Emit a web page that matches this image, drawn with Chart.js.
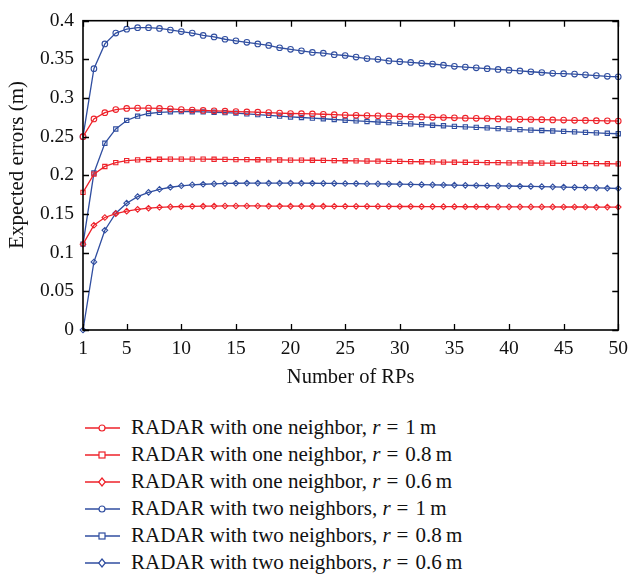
<!DOCTYPE html>
<html>
<head>
<meta charset="utf-8">
<script src="https://cdn.jsdelivr.net/npm/chart.js@4/dist/chart.umd.min.js"></script>
<style>
  html, body { margin: 0; padding: 0; background: #fff; }
  #wrap { position: relative; width: 635px; height: 578px; overflow: hidden; }
  #c { position: absolute; left: 0; top: 0; }
  #legend { position: absolute; left: 85px; top: 414px; font-family: "Liberation Serif", "Times New Roman", serif; font-size: 21px; color: #111; }
  .row { height: 27px; display: flex; align-items: center; white-space: nowrap; }
  .row svg { margin-right: 11px; flex: none; }
  .eq { display: inline-block; margin: 0 7px 0 6px; }
</style>
</head>
<body>
<div id="wrap">
  <canvas id="c" width="635" height="400"></canvas>
  <div id="legend"></div>
</div>
<script>
// ---- data ----
const RPS = [1,2,3,4,5,6,7,8,9,10,11,12,13,14,15,16,17,18,19,20,21,22,23,24,25,26,27,28,29,30,31,32,33,34,35,36,37,38,39,40,41,42,43,44,45,46,47,48,49,50];
const X_TICKS = [1,5,10,15,20,25,30,35,40,45,50];
const Y_TICKS = [0,0.05,0.1,0.15,0.2,0.25,0.3,0.35,0.4];
const Y_TICK_LABELS = ["0","0.05","0.1","0.15","0.2","0.25","0.3","0.35","0.4"];

const oneR1 = [0.250,0.273,0.281,0.285,0.2865,0.287,0.287,0.2865,0.286,0.285,0.2845,0.284,0.2835,0.283,0.2825,0.282,0.2817,0.2812,0.2805,0.280,0.2797,0.2795,0.279,0.2785,0.278,0.2777,0.2773,0.277,0.2765,0.2762,0.2758,0.2755,0.275,0.2748,0.2744,0.274,0.2737,0.2735,0.273,0.2727,0.2725,0.2722,0.272,0.2717,0.2715,0.2712,0.271,0.2707,0.2705,0.2703];
const oneR08 = [0.178,0.2015,0.2115,0.2165,0.219,0.220,0.2205,0.2208,0.221,0.221,0.221,0.221,0.2208,0.2206,0.2204,0.2203,0.2202,0.220,0.2199,0.2197,0.2196,0.2195,0.2193,0.219,0.2189,0.2187,0.2185,0.2183,0.2181,0.218,0.2178,0.2176,0.2174,0.2172,0.217,0.2169,0.2167,0.2165,0.2164,0.2162,0.2161,0.216,0.2158,0.2157,0.2155,0.2154,0.2152,0.2151,0.215,0.2148];
const oneR06 = [0.111,0.1355,0.1455,0.1505,0.1537,0.156,0.1575,0.1587,0.1593,0.1597,0.160,0.1602,0.1603,0.1604,0.1604,0.1604,0.1604,0.1603,0.1603,0.1602,0.1602,0.1601,0.1601,0.160,0.160,0.1599,0.1599,0.1598,0.1598,0.1597,0.1597,0.1596,0.1596,0.1595,0.1595,0.1594,0.1594,0.1594,0.1593,0.1593,0.1593,0.1592,0.1592,0.1592,0.1591,0.1591,0.1591,0.159,0.159,0.159];
const twoR1 = [0.250,0.338,0.370,0.384,0.389,0.391,0.391,0.390,0.388,0.386,0.384,0.381,0.379,0.376,0.374,0.372,0.370,0.368,0.365,0.363,0.361,0.359,0.358,0.356,0.355,0.353,0.351,0.350,0.348,0.347,0.346,0.345,0.344,0.3425,0.341,0.340,0.339,0.338,0.337,0.336,0.335,0.334,0.333,0.332,0.3315,0.331,0.330,0.329,0.328,0.3275];
const twoR08 = [0.111,0.203,0.2415,0.260,0.271,0.2765,0.280,0.2815,0.2822,0.2824,0.2823,0.282,0.2816,0.2811,0.2805,0.2795,0.2785,0.2775,0.2765,0.2755,0.2748,0.274,0.2732,0.2722,0.2713,0.2705,0.2697,0.269,0.2681,0.2673,0.2665,0.2655,0.2648,0.2641,0.2634,0.2627,0.262,0.2613,0.2605,0.2598,0.2592,0.2585,0.258,0.2574,0.2568,0.2562,0.2556,0.255,0.2544,0.2538];
const twoR06 = [0,0.088,0.129,0.151,0.164,0.1725,0.178,0.182,0.1846,0.1865,0.1878,0.1885,0.189,0.1895,0.1898,0.190,0.190,0.190,0.190,0.190,0.1899,0.1898,0.1897,0.1896,0.1894,0.1893,0.1891,0.189,0.1888,0.1886,0.1882,0.188,0.1877,0.1875,0.1873,0.1871,0.1869,0.1866,0.1864,0.1862,0.1859,0.1857,0.1854,0.1851,0.1848,0.1845,0.1842,0.1838,0.1834,0.183];

const SERIES_LABELS = [
  ["RADAR with one neighbor, ", "1"],
  ["RADAR with one neighbor, ", "0.8"],
  ["RADAR with one neighbor, ", "0.6"],
  ["RADAR with two neighbors, ", "1"],
  ["RADAR with two neighbors, ", "0.8"],
  ["RADAR with two neighbors, ", "0.6"]
];

// ---- styling ----
const RED = "rgb(238,34,42)";
const BLUE = "rgb(48,78,160)";
const FONT = "'Liberation Serif', 'Times New Roman', serif";
const seriesValues = [oneR1, oneR08, oneR06, twoR1, twoR08, twoR06];
const colors = [RED, RED, RED, BLUE, BLUE, BLUE];
const shapes = ["circle", "rect", "rectRot", "circle", "rect", "rectRot"];

const datasets = seriesValues.map((vals, i) => ({
  label: SERIES_LABELS[i][0] + "r = " + SERIES_LABELS[i][1] + " m",
  data: RPS.map((x, k) => ({ x: x, y: vals[k] })),
  borderColor: colors[i],
  backgroundColor: "rgba(255,255,255,0)",
  pointBorderColor: colors[i],
  pointBackgroundColor: "rgba(255,255,255,0)",
  pointStyle: shapes[i],
  pointRadius: shapes[i] === "rect" ? 3 : 2.8,
  pointBorderWidth: 1.1,
  borderWidth: 1.3,
  tension: 0,
  clip: false
}));

const framePlugin = {
  id: "frame",
  afterDatasetsDraw(chart) {
    const { ctx, chartArea: a, scales } = chart;
    ctx.save();
    ctx.strokeStyle = "#000";
    ctx.lineWidth = 1.3;
    const L = 6;
    ctx.beginPath();
    X_TICKS.forEach(v => {
      const px = Math.round(scales.x.getPixelForValue(v)) + 0.5;
      ctx.moveTo(px, a.bottom); ctx.lineTo(px, a.bottom - L);
      ctx.moveTo(px, a.top); ctx.lineTo(px, a.top + L);
    });
    Y_TICKS.forEach(v => {
      const py = Math.round(scales.y.getPixelForValue(v)) + 0.5;
      ctx.moveTo(a.left, py); ctx.lineTo(a.left + L, py);
      ctx.moveTo(a.right, py); ctx.lineTo(a.right - L, py);
    });
    ctx.stroke();
    ctx.lineWidth = 1.6;
    ctx.strokeRect(a.left, a.top, a.right - a.left, a.bottom - a.top);
    ctx.restore();
  }
};

new Chart(document.getElementById("c"), {
  type: "line",
  data: { datasets },
  options: {
    responsive: false,
    animation: false,
    devicePixelRatio: 1,
    layout: { padding: { top: 10, right: 8, left: 0, bottom: 10 } },
    plugins: { legend: { display: false }, tooltip: { enabled: false } },
    scales: {
      x: {
        type: "linear", min: 1, max: 50,
        afterBuildTicks: s => { s.ticks = X_TICKS.map(v => ({ value: v })); },
        grid: { display: false, drawTicks: false },
        border: { display: false },
        ticks: { font: { family: FONT, size: 19.5 }, color: "#111", padding: 7, maxRotation: 0, autoSkip: false },
        title: { display: true, text: "Number of RPs", font: { family: FONT, size: 20.5 }, color: "#111", padding: { top: 0, bottom: 0 } },
        afterFit: s => { s.height = 60; }
      },
      y: {
        type: "linear", min: 0, max: 0.4,
        afterBuildTicks: s => { s.ticks = Y_TICKS.map(v => ({ value: v })); },
        grid: { display: false, drawTicks: false },
        border: { display: false },
        ticks: {
          font: { family: FONT, size: 19.5 }, color: "#111", padding: 9,
          callback: (v) => { const i = Y_TICKS.findIndex(t => Math.abs(t - v) < 1e-9); return i >= 0 ? Y_TICK_LABELS[i] : ""; }
        },
        title: { display: true, text: "\u2003Expected errors (m)", font: { family: FONT, size: 21 }, color: "#111", padding: { top: 4.5, bottom: 0 } },
        afterFit: s => { s.width = 83; }
      }
    }
  },
  plugins: [framePlugin]
});

// ---- HTML legend ----
function markerSvg(shape, color) {
  let m = "";
  if (shape === "circle") m = `<circle cx="17" cy="7" r="3" fill="#fff" stroke="${color}" stroke-width="1.2"/>`;
  else if (shape === "rect") m = `<rect x="14" y="4" width="6" height="6" fill="#fff" stroke="${color}" stroke-width="1.2"/>`;
  else m = `<polygon points="17,3 20.3,7 17,11 13.7,7" fill="#fff" stroke="${color}" stroke-width="1.2"/>`;
  return `<svg width="35" height="14" viewBox="0 0 35 14"><line x1="0" y1="7" x2="35" y2="7" stroke="${color}" stroke-width="1.3"/>${m}</svg>`;
}
const leg = document.getElementById("legend");
SERIES_LABELS.forEach((lab, i) => {
  const row = document.createElement("div");
  row.className = "row";
  row.innerHTML = markerSvg(shapes[i], colors[i]) + `<span>${lab[0]}<i>r</i><span class="eq">=</span>${lab[1]}&#8201;m</span>`;
  leg.appendChild(row);
});
</script>
</body>
</html>
